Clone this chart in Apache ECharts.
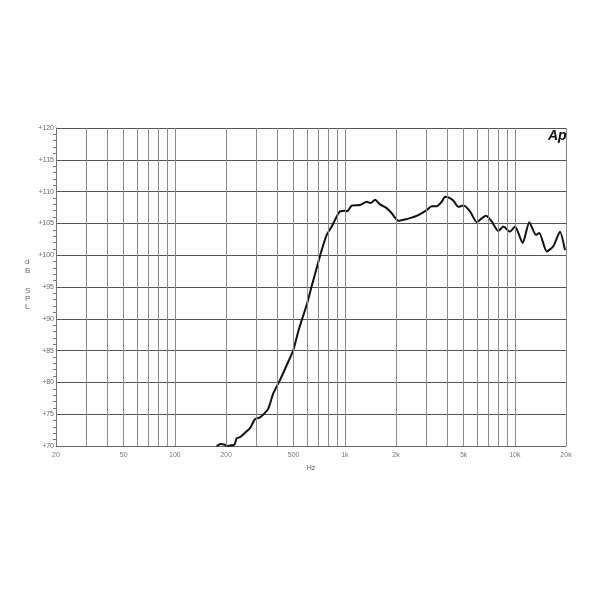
<!DOCTYPE html>
<html>
<head>
<meta charset="utf-8">
<script src="https://cdn.jsdelivr.net/npm/echarts@6/dist/echarts.min.js"></script>
<style>html,body{margin:0;padding:0;background:#fff;}#c{width:600px;height:600px;}</style>
</head>
<body>
<div id="c"></div>
<script>
// Frequency response (Hz, dB SPL)
var freqHz = [176,186,197,205,211,224,231,242,259,277,296,317,339,355,380,416,455,498,532,558,597,638,683,731,782,837,896,937,1002,1034,1097,1228,1344,1420,1505,1610,1763,1887,2064,2258,2473,2704,3031,3244,3471,3714,3883,4061,4346,4650,4978,5448,5968,6386,6766,7313,7996,8556,9369,10024,11125,12164,13321,13932,15404,16843,18437,19726];
var splDb = [70.0,70.3,70.2,70.0,70.1,70.2,71.2,71.4,72.1,72.8,74.2,74.5,75.2,75.9,78.3,80.4,82.7,85.1,88.0,89.8,92.2,95.1,98.0,100.8,103.2,104.5,106.1,106.9,107.0,106.9,107.8,107.9,108.4,108.2,108.7,108.0,107.4,106.6,105.4,105.6,105.9,106.3,107.1,107.7,107.7,108.4,109.2,109.1,108.6,107.6,107.8,106.9,105.2,105.8,106.2,105.3,103.8,104.5,103.7,104.5,101.9,105.2,103.2,103.5,100.6,101.4,103.7,100.8];
var xTickValues = [20,50,100,200,500,1000,2000,5000,10000,20000];
var xTickLabels = ['20','50','100','200','500','1k','2k','5k','10k','20k'];
var xGridValues = [30,40,50,60,70,80,90,100,200,300,400,500,600,700,800,900,1000,2000,3000,4000,5000,6000,7000,8000,9000,10000,20000];

var chart = echarts.init(document.getElementById('c'));
var font = 'Liberation Sans, Arial, sans-serif';
chart.setOption({
  backgroundColor: '#ffffff',
  animation: false,
  grid: {left: 56, right: 34, top: 128, bottom: 154, containLabel: false},
  xAxis: {
    type: 'log', logBase: 10, min: 20, max: 20000,
    name: 'Hz', nameLocation: 'middle', nameGap: 19,
    nameTextStyle: {fontSize: 7, color: '#555', fontFamily: font},
    axisLine: {show: true, lineStyle: {color: '#666', width: 1}},
    axisTick: {show: false},
    axisLabel: {show: false},
    splitLine: {show: false}
  },
  yAxis: {
    type: 'value', min: 70, max: 120, interval: 5,
    axisLine: {show: true, lineStyle: {color: '#777', width: 1}},
    axisTick: {show: false},
    minorTick: {show: true, splitNumber: 5, length: 3, lineStyle: {color: '#777'}},
    axisLabel: {formatter: function(v){return '+' + v;}, fontSize: 7, color: '#666', margin: 2, fontFamily: font},
    splitLine: {show: true, lineStyle: {color: '#555', width: 1}}
  },
  graphic: [
    {type: 'text', left: 25, top: 257, style: {text: 'd\nB', fontSize: 8, lineHeight: 9, fill: '#666', fontFamily: font, align: 'center'}},
    {type: 'text', left: 25, top: 287, style: {text: 'S\nP\nL', fontSize: 8, lineHeight: 8, fill: '#666', fontFamily: font, align: 'center'}},
    {type: 'text', left: 548, top: 129, style: {text: 'Ap', fontSize: 14, fontWeight: 'bold', fontStyle: 'italic', fill: '#111', fontFamily: font}}
  ],
  series: [
    {
      type: 'line', data: [], silent: true,
      markLine: {
        silent: true, symbol: ['none','none'], animation: false,
        label: {show: false},
        lineStyle: {color: '#8a8a8a', width: 1, type: 'solid'},
        data: xGridValues.map(function(v){return {xAxis: v};})
      }
    },
    {
      type: 'scatter', silent: true, clip: false, symbolSize: 0,
      data: xTickValues.map(function(v){return [v, 70];}),
      label: {
        show: true, position: 'bottom', distance: 6,
        fontSize: 7, color: '#555', fontFamily: font,
        formatter: function(p){return xTickLabels[p.dataIndex];}
      }
    },
    {
      type: 'line', name: 'SPL', showSymbol: false, smooth: 0.2,
      lineStyle: {color: '#111', width: 2},
      data: freqHz.map(function(f, i){return [f, splDb[i]];})
    }
  ]
});
</script>
</body>
</html>
